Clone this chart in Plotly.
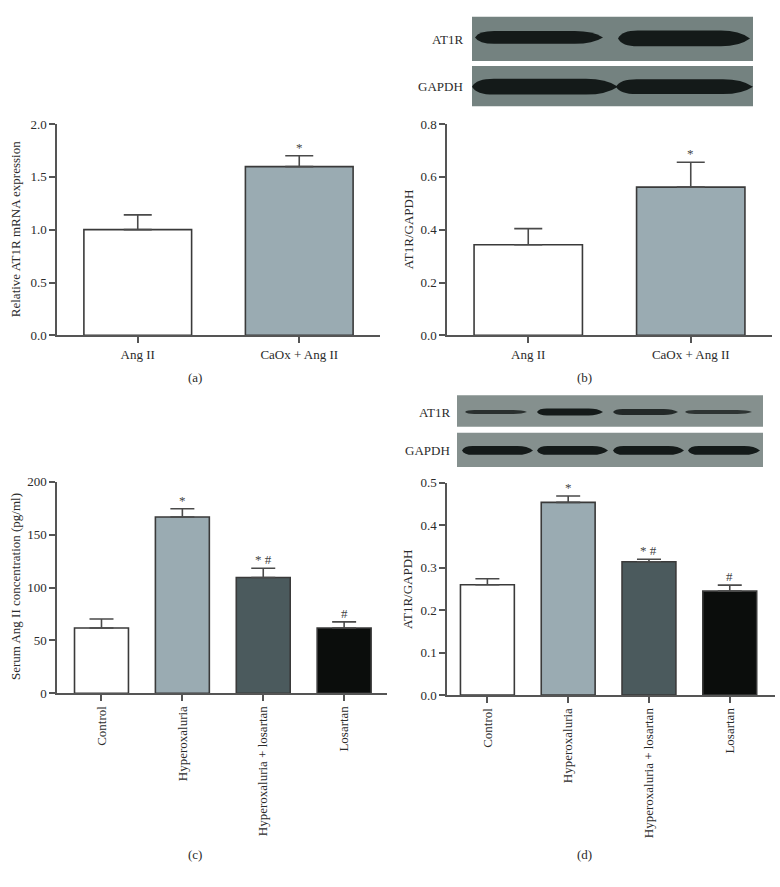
import plotly.graph_objects as go

W, H = 780, 887

# ---------------- data ----------------
ab_categories = ["Ang II", "CaOx + Ang II"]
a_values = [1.00, 1.597]
a_errors = [0.14, 0.103]
a_marks = ["", "*"]

b_values = [0.343, 0.561]
b_errors = [0.061, 0.094]
b_marks = ["", "*"]

cd_categories = ["Control", "Hyperoxaluria", "Hyperoxaluria + losartan", "Losartan"]
c_values = [61.7, 166.7, 109.5, 61.7]
c_errors = [8.5, 7.8, 8.7, 5.8]
c_marks = ["", "*", "* #", "#"]

d_values = [0.260, 0.454, 0.314, 0.245]
d_errors = [0.014, 0.015, 0.006, 0.014]
d_marks = ["", "*", "* #", "#"]

two_colors = ["#ffffff", "#9aabb2"]
four_colors = ["#ffffff", "#9aabb2", "#4b5a5d", "#0b0d0c"]

# ---------------- helpers ----------------
FONT = "Liberation Serif"
TXT = "#2b2b2b"
AX = "#555555"


def px(x):
    return x / W


def py(y):
    return 1 - y / H


fig = go.Figure()

panels = [
    ("1", ab_categories, a_values, a_errors, a_marks, two_colors, (57, 380), (334, 119), [0, 2.0], 0.5, ".1f", [-0.5, 1.5], 14, 0),
    ("2", ab_categories, b_values, b_errors, b_marks, two_colors, (447, 772), (334, 119), [0, 0.8], 0.2, ".1f", [-0.5, 1.5], 14, 0),
    ("3", cd_categories, c_values, c_errors, c_marks, four_colors, (57, 387), (698, 483), [0, 200], 50, "d", [-0.55, 3.53], 12, -90),
    ("4", cd_categories, d_values, d_errors, d_marks, four_colors, (447, 775), (700, 484), [0, 0.5], 0.1, ".1f", [-0.5, 3.56], 12, -90),
]

layout_axes = {}
annotations = []
for name, cats, vals, errs, marks, cols, xd, yd, yr, dt, fmt, xr, capw, ta in panels:
    xa = "x" if name == "1" else "x" + name
    ya = "y" if name == "1" else "y" + name
    fig.add_trace(go.Bar(
        x=cats, y=vals, xaxis=xa, yaxis=ya,
        marker=dict(color=cols, line=dict(color="#3a3a3a", width=1.6)),
        width=0.667,
        error_y=dict(type="data", array=errs, arrayminus=[0] * len(errs), symmetric=False,
                     color="#4a4a4a", thickness=1.6, width=capw),
        showlegend=False, hoverinfo="x+y",
    ))
    xkey = "xaxis" if name == "1" else "xaxis" + name
    ykey = "yaxis" if name == "1" else "yaxis" + name
    layout_axes[xkey] = dict(
        domain=[px(xd[0]), px(xd[1])], anchor=ya, type="category", range=xr,
        showline=True, linecolor=AX, linewidth=1.5, ticks="outside", ticklen=6,
        tickcolor=AX, tickwidth=1.5, showgrid=False, zeroline=False,
        tickangle=ta, tickfont=dict(family=FONT, size=13, color=TXT), fixedrange=True,
    )
    layout_axes[ykey] = dict(
        domain=[py(yd[0]), py(yd[1])], anchor=xa, range=yr, dtick=dt, tick0=0,
        tickformat=fmt, showline=True, linecolor=AX, linewidth=1.5, ticks="outside",
        ticklen=6, tickcolor=AX, tickwidth=1.5, showgrid=False, zeroline=False,
        tickfont=dict(family=FONT, size=13, color=TXT), fixedrange=True,
    )
    for c, v, e, m in zip(cats, vals, errs, marks):
        if m:
            annotations.append(dict(
                x=c, y=v + e, xref=xa, yref=ya, text=m, showarrow=False,
                yanchor="bottom", yshift=-1,
                font=dict(family=FONT, size=13, color="#444444"),
            ))

# axis titles and panel labels
for txt, x, y in [
    ("Relative AT1R mRNA expression", 15, 226),
    ("AT1R/GAPDH", 408, 227),
    ("Serum Ang II concentration (pg/ml)", 15, 590),
    ("AT1R/GAPDH", 408, 593),
]:
    annotations.append(dict(x=px(x), y=py(y), xref="paper", yref="paper", text=txt,
                            textangle=-90, showarrow=False, xanchor="center", yanchor="middle",
                            font=dict(family=FONT, size=13, color=TXT)))

for txt, x, y in [("(a)", 195, 377), ("(b)", 584, 377), ("(c)", 195, 862), ("(d)", 584, 862)]:
    annotations.append(dict(x=px(x), y=py(y), xref="paper", yref="paper", text=txt,
                            showarrow=False, xanchor="center", yanchor="middle",
                            font=dict(family=FONT, size=13, color=TXT)))

# blot labels
for txt, x, y in [("AT1R", 465, 33), ("GAPDH", 465, 81), ("AT1R", 452, 412), ("GAPDH", 452, 451)]:
    annotations.append(dict(x=px(x), y=py(y), xref="paper", yref="paper", text=txt,
                            showarrow=False, xanchor="right", yanchor="middle",
                            font=dict(family=FONT, size=13, color=TXT)))

# ---------------- western blot pictures (decoration) ----------------
shapes = []


def strip(x0, x1, y0, y1, color):
    shapes.append(dict(type="rect", xref="paper", yref="paper",
                       x0=px(x0), x1=px(x1), y0=py(y1), y1=py(y0),
                       fillcolor=color, line=dict(width=0), layer="below"))


def band(x0, x1, yc, h, color="#141a19"):
    w = x1 - x0
    pts = [
        ("M", x0, yc),
        ("Q", x0 + 0.03 * w, yc - h / 2, x0 + 0.15 * w, yc - h / 2),
        ("L", x1 - 0.22 * w, yc - h / 2),
        ("Q", x1 - 0.08 * w, yc - h / 2, x1, yc),
        ("Q", x1 - 0.08 * w, yc + h / 2, x1 - 0.22 * w, yc + h / 2),
        ("L", x0 + 0.15 * w, yc + h / 2),
        ("Q", x0 + 0.03 * w, yc + h / 2, x0, yc),
    ]
    path = ""
    for p in pts:
        cmd = p[0]
        coords = p[1:]
        s = " ".join(f"{px(coords[i]):.5f},{py(coords[i + 1]):.5f}" for i in range(0, len(coords), 2))
        path += f"{cmd} {s} "
    path += "Z"
    shapes.append(dict(type="path", xref="paper", yref="paper", path=path,
                       fillcolor=color, line=dict(width=0), layer="above"))


strip(472, 753, 10, 55, "#748280")
strip(472, 753, 60, 101, "#748280")
band(475, 603, 31, 13)
band(618, 750, 32, 16)
band(472, 618, 81, 16)
band(616, 753, 81, 15)

strip(457, 763, 395, 427, "#85908e")
strip(457, 763, 433, 468, "#85908e")
band(465, 527, 412, 4, "#2a302f")
band(537, 603, 412, 7)
band(613, 678, 412, 6, "#232928")
band(685, 752, 412, 4, "#2e3433")
for x0, x1 in [(462, 533), (537, 608), (613, 684), (688, 760)]:
    band(x0, x1, 451, 9)

fig.update_layout(
    width=W, height=H, margin=dict(l=0, r=0, t=0, b=0),
    paper_bgcolor="white", plot_bgcolor="rgba(0,0,0,0)",
    annotations=annotations, shapes=shapes, bargap=0.33,
    **layout_axes,
)

fig.write_html("out.html", config={"displayModeBar": False},
               post_script="document.body.style.margin='0';document.body.style.overflow='hidden';")
